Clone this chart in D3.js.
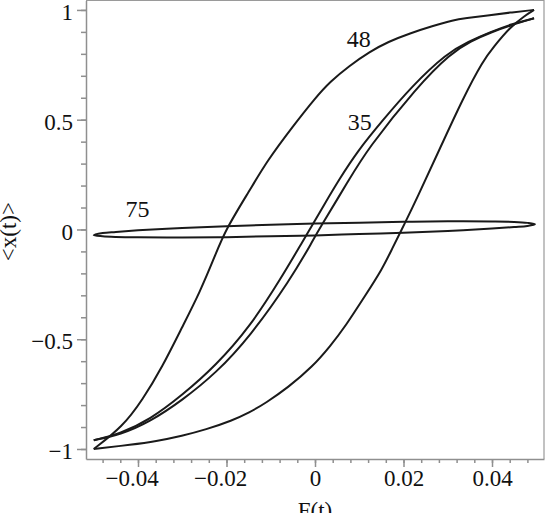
<!DOCTYPE html>
<html>
<head>
<meta charset="utf-8">
<script src="https://cdn.jsdelivr.net/npm/d3@7"></script>
<style>
  body { margin: 0; background: #fff; }
  svg { display: block; }
  .axis path, .axis line { stroke: #8f8f8f; stroke-width: 1.5px; }
</style>
</head>
<body>
<div id="chart"></div>
<script>
// DATA  (F(t), <x(t)>)

// loop "48": upper branch (F going down), lower branch (F going up)
const loop48Upper = [
  [0.0495, 1.0], [0.044, 0.988], [0.039, 0.975], [0.034, 0.962], [0.0313, 0.954],
  [0.0265, 0.926], [0.0215, 0.894], [0.0165, 0.855], [0.0124, 0.81], [0.0077, 0.745],
  [0.0034, 0.673], [0.0001, 0.60], [-0.005, 0.47], [-0.0109, 0.31], [-0.0147, 0.18],
  [-0.0202, 0.0], [-0.0226, -0.12], [-0.026, -0.285], [-0.030, -0.444], [-0.0345, -0.626],
  [-0.039, -0.777], [-0.0435, -0.899], [-0.05, -1.0]
];
const loop48Lower = [
  [-0.05, -1.0], [-0.0413, -0.98], [-0.036, -0.965], [-0.030, -0.94], [-0.0247, -0.912],
  [-0.0187, -0.87], [-0.0149, -0.835], [-0.0111, -0.79], [-0.0061, -0.72], [-0.0006, -0.626],
  [0.0035, -0.53], [0.0069, -0.44], [0.0114, -0.30], [0.0152, -0.18], [0.0173, -0.093],
  [0.0203, 0.028], [0.023, 0.14], [0.02825, 0.37], [0.0335, 0.60], [0.038, 0.77],
  [0.0403, 0.83], [0.0441, 0.922], [0.0475, 0.975], [0.0495, 1.0]
];

// loop "35"
const loop35Upper = [
  [0.0495, 0.962], [0.0446, 0.937], [0.0395, 0.898], [0.0347, 0.856], [0.0298, 0.803],
  [0.0218, 0.651], [0.015, 0.49], [0.0098, 0.362], [0.0053, 0.223], [0.002, 0.11],
  [-0.0012, 0.0], [-0.0026, -0.048], [-0.0079, -0.23], [-0.0147, -0.443], [-0.0224, -0.62],
  [-0.030, -0.755], [-0.0373, -0.866], [-0.044, -0.93], [-0.05, -0.96]
];
const loop35Lower = [
  [-0.05, -0.96], [-0.044, -0.935], [-0.0373, -0.876], [-0.030, -0.778], [-0.0224, -0.655],
  [-0.0147, -0.488], [-0.0056, -0.23], [-0.0004, -0.048], [0.0009, 0.0], [0.0076, 0.223],
  [0.0117, 0.362], [0.0231, 0.651], [0.0307, 0.803], [0.0352, 0.858], [0.040, 0.90],
  [0.0446, 0.932], [0.0495, 0.962]
];

// loop "75": thin closed ellipse
const loop75 = [
  [-0.05, -0.026], [-0.048, -0.016], [-0.045, -0.011], [-0.04, -0.004], [-0.03, 0.007],
  [-0.02, 0.015], [-0.01, 0.021], [0, 0.027], [0.01, 0.031], [0.02, 0.035],
  [0.03, 0.037], [0.04, 0.036], [0.045, 0.034], [0.048, 0.030], [0.0497, 0.024],
  [0.048, 0.016], [0.045, 0.011], [0.04, 0.004], [0.03, -0.007], [0.02, -0.015],
  [0.01, -0.021], [0, -0.027], [-0.01, -0.031], [-0.02, -0.035], [-0.03, -0.037],
  [-0.04, -0.036], [-0.045, -0.034], [-0.048, -0.031]
];

const curveLabels = ["48", "35", "75"];
const labelAt = [[0.0072, 0.83], [0.0074, 0.455], [-0.0428, 0.056]]; // F, x where the label sits

const xTicks = [-0.04, -0.02, 0, 0.02, 0.04];
const xTickLabels = ["\u22120.04", "\u22120.02", "0", "0.02", "0.04"];
const yTicks = [-1, -0.5, 0, 0.5, 1];
const yTickLabels = ["\u22121", "\u22120.5", "0", "0.5", "1"];
const xTitle = "F(t)";
const yTitle = "<x(t)>";

const serif = '"Liberation Serif"';

// SETUP
const width = 545, height = 513;
const plot = { left: 86, right: 544, top: 0.5, bottom: 459 };

const svg = d3.select('#chart').append('svg')
  .attr('width', width)
  .attr('height', height);

const xScale = d3.scaleLinear()
  .domain([-0.05175, 0.05175])
  .range([plot.left, plot.right]);
const yScale = d3.scaleLinear()
  .domain([-1.0456, 1.043])
  .range([plot.bottom, plot.top]);

// frame (top + right)
svg.append('path')
  .attr('d', `M${plot.left},${plot.top}H${plot.right}V${plot.bottom}`)
  .attr('fill', 'none')
  .attr('stroke', '#9a9a9a')
  .attr('stroke-width', 1.2);

// minor ticks
const xMinor = d3.range(-0.048, 0.0481, 0.004);
const yMinor = d3.range(-1, 1.001, 0.1);
svg.append('g')
  .attr('class', 'axis')
  .attr('transform', `translate(0, ${plot.bottom})`)
  .call(d3.axisBottom(xScale).tickValues(xMinor).tickSize(4).tickFormat(''))
  .call(g => g.select('.domain').remove());
svg.append('g')
  .attr('class', 'axis')
  .attr('transform', `translate(${plot.left}, 0)`)
  .call(d3.axisLeft(yScale).tickValues(yMinor).tickSize(5).tickFormat(''))
  .call(g => g.select('.domain').remove());

// major axes
const xAxis = d3.axisBottom(xScale)
  .tickValues(xTicks)
  .tickSize(8)
  .tickPadding(3)
  .tickSizeOuter(0)
  .tickFormat((d, i) => xTickLabels[i]);
svg.append('g')
  .attr('class', 'axis')
  .attr('transform', `translate(0, ${plot.bottom})`)
  .call(xAxis)
  .call(g => g.selectAll('text')
    .style('font-family', serif)
    .style('font-size', '23px')
    .attr('fill', '#111')
    .attr('dx', d => d < 0 ? '-0.28em' : null)); // minus sign hangs left of the number

const yAxis = d3.axisLeft(yScale)
  .tickValues(yTicks)
  .tickSize(9)
  .tickPadding(4)
  .tickSizeOuter(0)
  .tickFormat((d, i) => yTickLabels[i]);
svg.append('g')
  .attr('class', 'axis')
  .attr('transform', `translate(${plot.left}, 0)`)
  .call(yAxis)
  .call(g => g.selectAll('text')
    .style('font-family', serif)
    .style('font-size', '23px')
    .attr('dy', '0.42em')
    .attr('fill', '#111'));

// titles
svg.append('text')
  .attr('x', xScale(0))
  .attr('y', 518)
  .attr('text-anchor', 'middle')
  .style('font-family', serif)
  .style('font-size', '23px')
  .attr('fill', '#111')
  .text(xTitle);
svg.append('text')
  .attr('transform', `translate(16, ${yScale(-0.01)}) rotate(-90)`)
  .attr('text-anchor', 'middle')
  .style('font-family', serif)
  .style('font-size', '23px')
  .attr('fill', '#111')
  .text(yTitle);

// curves
const lineGenerator = d3.line()
  .x(d => xScale(d[0]))
  .y(d => yScale(d[1]))
  .curve(d3.curveBasis);
const closedGenerator = d3.line()
  .x(d => xScale(d[0]))
  .y(d => yScale(d[1]))
  .curve(d3.curveCatmullRomClosed.alpha(0.5));

const branches = [loop48Upper, loop48Lower, loop35Upper, loop35Lower];
svg.append('g').selectAll('.branch').data(branches)
  .enter().append('path')
    .attr('class', 'branch')
    .attr('fill', 'none')
    .attr('stroke', '#1a1a1a')
    .attr('stroke-width', 2)
    .attr('d', d => lineGenerator(d));

svg.append('path')
  .attr('fill', 'none')
  .attr('stroke', '#1a1a1a')
  .attr('stroke-width', 2)
  .attr('d', closedGenerator(loop75));

// curve labels
svg.append('g').selectAll('.curve-label').data(curveLabels)
  .enter().append('text')
    .attr('class', 'curve-label')
    .attr('x', (d, i) => xScale(labelAt[i][0]))
    .attr('y', (d, i) => yScale(labelAt[i][1]))
    .style('font-family', serif)
    .style('font-size', '24px')
    .attr('fill', '#111')
    .text(d => d);
</script>
</body>
</html>
